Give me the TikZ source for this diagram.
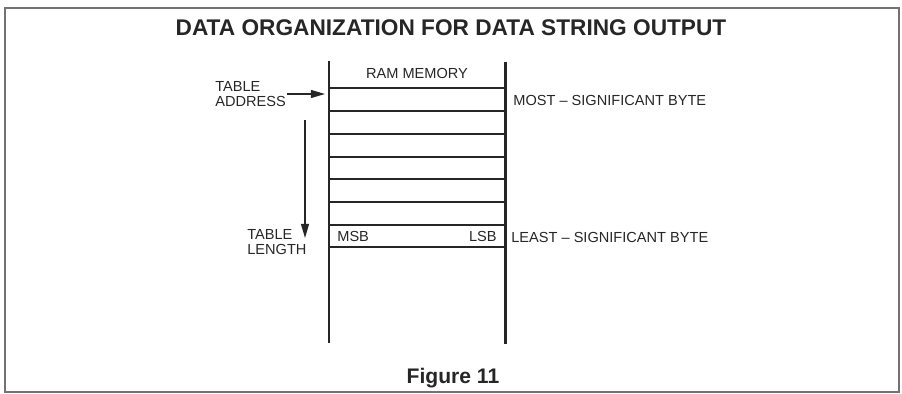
\documentclass[tikz,border=0pt]{standalone}
\usepackage{fontspec}
\setmainfont{Liberation Sans}
\usetikzlibrary{positioning, arrows.meta}

\begin{document}
\begin{tikzpicture}[
        x=0.02cm, y=-0.02cm,
        wall/.style={line width=1.7pt, black!85},
        slot/.style={line width=0.8pt, black!85},
        lbl/.style={font=\fontsize{8.3}{8.4}\selectfont, inner sep=0pt, align=left, text=black!85},
        pointer/.style={line width=0.8pt, black!85, -{Triangle[length=8pt, width=4.5pt]}}
    ]

    \useasboundingbox (0,0) rectangle (902,394);
    \draw[black!55, line width=0.7pt] (5,8) rectangle (899,392);

    \node[font=\fontsize{12.9}{15}\selectfont\bfseries, text=black!85] (title) at (451,28) {DATA ORGANIZATION FOR DATA STRING OUTPUT};
    \node[font=\fontsize{12}{14}\selectfont\bfseries, text=black!85] (figure) at (453,378) {Figure 11};

    % memory walls and byte rows
    \draw[wall] (329,61) -- (329,343);
    \draw[wall] (505,62) -- (505,344);
    \foreach \y in {88,111,134,157,179,202,225,247}
        \draw[slot] (329,\y) -- (505,\y);

    \node[lbl] (ram) at (417,73) {RAM MEMORY};
    \node[lbl, anchor=west] (msb) at (337,236) {MSB};
    \node[lbl, anchor=east] (lsb) at (497,236) {LSB};
    \node[lbl, anchor=west] (most) at (513,100) {MOST -- SIGNIFICANT BYTE};
    \node[lbl, anchor=west] (least) at (511,237) {LEAST -- SIGNIFICANT BYTE};

    % table pointers
    \node[lbl, anchor=west] (address) at (215,94) {TABLE\\ADDRESS};
    \coordinate (first) at (325,94);
    \draw[pointer] (address.east |- first) ++(1,0) -- (first);

    \node[lbl, anchor=west] (length) at (247,242) {TABLE\\LENGTH};
    \coordinate (lenstart) at (305,120);
    \coordinate (lenend) at (305,238);
    \draw[pointer] (lenstart) -- (lenend);
\end{tikzpicture}
\end{document}
